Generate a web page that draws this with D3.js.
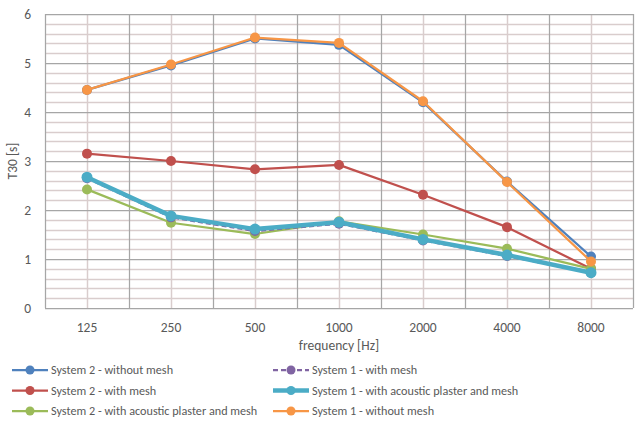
<!DOCTYPE html>
<html><head><meta charset="utf-8">
<script src="https://cdn.jsdelivr.net/npm/d3@7"></script>
<style>body{margin:0;background:#fff}svg{display:block}text{font-family:Carlito,"Open Sans","Liberation Sans",sans-serif;fill:#595959}</style>
</head><body><svg id="c" width="637" height="421"></svg>
<script>
const categories = ["125","250","500","1000","2000","4000","8000"];
const yTicks = [0,1,2,3,4,5,6];
const s2NoMesh = [4.45,4.95,5.50,5.37,4.20,2.58,1.05];
const s2Mesh = [3.15,3.00,2.83,2.92,2.31,1.65,0.80];
const s2Plaster = [2.42,1.74,1.51,1.77,1.50,1.21,0.80];
const s1Mesh = [2.65,1.85,1.57,1.72,1.38,1.06,0.72];
const s1Plaster = [2.67,1.88,1.61,1.75,1.40,1.08,0.72];
const s1NoMesh = [4.45,4.97,5.52,5.41,4.22,2.57,0.95];
const names = ["System 2 - without mesh","System 1 - with mesh","System 2 - with mesh","System 1 - with acoustic plaster and mesh","System 2 - with acoustic plaster and mesh","System 1 - without mesh"];

const series = [
 {name:names[0], v:s2NoMesh, c:"#4F81BD", w:2.25, dash:null},
 {name:names[1], v:s1Mesh, c:"#8064A2", w:2.25, dash:"5,3"},
 {name:names[2], v:s2Mesh, c:"#C0504D", w:2.25, dash:null},
 {name:names[3], v:s1Plaster, c:"#4BACC6", w:4.5, dash:null},
 {name:names[4], v:s2Plaster, c:"#9BBB59", w:2.25, dash:null},
 {name:names[5], v:s1NoMesh, c:"#F79646", w:2.25, dash:null}
];
const drawOrder = [0,2,4,1,3,5];

const svg = d3.select("#c");
const L=45,R=633,T=14,B=308;
const x = d3.scaleBand().domain(categories).range([L,R]);
const y = d3.scaleLinear().domain([0,6]).range([B,T]);
const cx = d=>x(d)+x.bandwidth()/2;

const minor = d3.range(0,6.01,0.2).filter(v=>Math.abs(v-Math.round(v))>1e-6);
svg.append("g").selectAll("line").data(minor).join("line")
 .attr("x1",L).attr("x2",R).attr("y1",d=>Math.round(y(d))+0.5).attr("y2",d=>Math.round(y(d))+0.5)
 .attr("stroke","#D9CDCD").attr("stroke-width",1.5);
svg.append("g").selectAll("line").data(categories).join("line")
 .attr("y1",T).attr("y2",B).attr("x1",d=>Math.round(cx(d))+0.5).attr("x2",d=>Math.round(cx(d))+0.5)
 .attr("stroke","#D9CDCD").attr("stroke-width",1.5);
svg.append("g").selectAll("line").data(yTicks).join("line")
 .attr("x1",L).attr("x2",R).attr("y1",d=>Math.round(y(d))+0.5).attr("y2",d=>Math.round(y(d))+0.5)
 .attr("stroke","#A6A6A6").attr("stroke-width",1.25);
const edges = categories.map(d=>x(d)).concat([R]);
svg.append("g").selectAll("line").data(edges).join("line")
 .attr("y1",T).attr("y2",B).attr("x1",d=>Math.round(d)+0.5).attr("x2",d=>Math.round(d)+0.5)
 .attr("stroke","#A6A6A6").attr("stroke-width",1.25);

const yAxis = d3.axisLeft(y).tickValues(yTicks).tickFormat(d3.format("d")).tickSize(0).tickPadding(14);
const gy = svg.append("g").attr("transform",`translate(${L},0)`).call(yAxis);
gy.select(".domain").remove();
gy.selectAll("text").style("font-size","13.5px").attr("fill","#595959");
const xAxis = d3.axisBottom(x).tickSize(0).tickPadding(14);
const gx = svg.append("g").attr("transform",`translate(0,${B})`).call(xAxis);
gx.select(".domain").remove();
gx.selectAll("text").style("font-size","13.5px").attr("fill","#595959");

svg.append("text").attr("x",(L+R)/2).attr("y",350).attr("text-anchor","middle").style("font-size","13.5px").text("frequency [Hz]");
svg.append("text").attr("transform",`translate(17,${(T+B)/2}) rotate(-90)`).attr("text-anchor","middle").style("font-size","13.5px").text("T30 [s]");

const line = d3.line().x((d,i)=>cx(categories[i])).y(d=>y(d));
drawOrder.forEach(k=>{
 const s=series[k];
 const g=svg.append("g");
 g.append("path").datum(s.v).attr("d",line).attr("fill","none").attr("stroke",s.c)
  .attr("stroke-width",s.w).attr("stroke-dasharray",s.dash).attr("stroke-linejoin","round");
 g.selectAll("circle").data(s.v).join("circle").attr("cx",(d,i)=>cx(categories[i])).attr("cy",d=>y(d))
  .attr("r",s.w>3?5.5:5).attr("fill",s.c);
});

const lg = svg.append("g");
series.forEach((s,i)=>{
 const col=i%2, row=Math.floor(i/2);
 const lx = col===0?12:273, ly = 370+row*20.5;
 const g=lg.append("g").attr("transform",`translate(${lx},${ly})`);
 g.append("line").attr("x1",0).attr("x2",36).attr("y1",0).attr("y2",0).attr("stroke",s.c)
  .attr("stroke-width",s.w).attr("stroke-dasharray",s.dash);
 g.append("circle").attr("cx",18).attr("cy",0).attr("r",4.5).attr("fill",s.c);
 g.append("text").attr("x",39).attr("y",0).attr("dy","0.35em").style("font-size","12.2px").text(s.name);
});
</script></body></html>
